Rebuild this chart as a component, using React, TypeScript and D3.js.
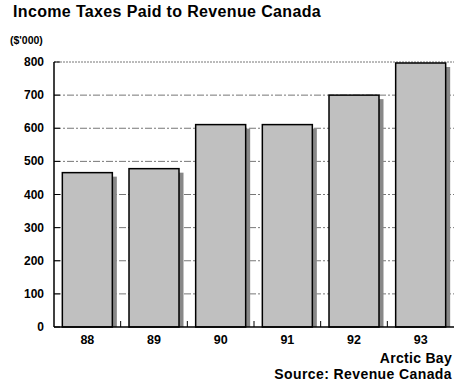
import React from "react";
import * as d3 from "d3";

const categories = ["88", "89", "90", "91", "92", "93"];
const values = [466, 478, 611, 611, 700, 797];
const yTicks = [0, 100, 200, 300, 400, 500, 600, 700, 800];

export default function App() {
  const W = 455, H = 387;
  const left = 54, right = 454, top = 62, bottom = 327;
  const x = d3.scaleBand().domain(categories).range([left, right]).paddingInner(0.25).paddingOuter(0.125);
  const slot = d3.scaleBand().domain(categories).range([left, right]);
  const y = d3.scaleLinear().domain([0, 800]).range([bottom, top]);
  const font = "'Liberation Sans', Arial, sans-serif";
  return (
    <svg width={W} height={H} style={{ position: "absolute", left: 0, top: 0, background: "#fff" }} fontFamily={font}>
      <text x={13} y={17} fontSize={16} fontWeight="bold" letterSpacing={0.35}>Income Taxes Paid to Revenue Canada</text>
      <text x={10} y={44} fontSize={10.5} fontWeight="bold">($'000)</text>
      {yTicks.slice(1).map((t) => (
        <line key={"g" + t} x1={left} x2={right} y1={y(t)} y2={y(t)} stroke="#777" strokeWidth={1}
          strokeDasharray={t === 800 ? "2,1" : "7,2,2,2"} />
      ))}
      {yTicks.map((t) => (
        <g key={"t" + t}>
          <line x1={left} x2={left + 6} y1={y(t)} y2={y(t)} stroke="#000" strokeWidth={1} />
          <text x={44} y={y(t) + 4} fontSize={12} fontWeight="bold" textAnchor="end">{t}</text>
        </g>
      ))}
      {categories.map((c, i) => {
        const bx = x(c)!, bw = x.bandwidth();
        return (
          <g key={c}>
            <rect x={bx + bw} y={y(values[i]) + 4} width={4.5} height={bottom - y(values[i]) - 4} fill="#888" />
            <rect x={bx} y={y(values[i])} width={bw} height={bottom - y(values[i])} fill="#c0c0c0" stroke="#000" strokeWidth={1.5} />
            <text x={bx + bw / 2} y={344} fontSize={12.5} fontWeight="bold" textAnchor="middle">{c}</text>
          </g>
        );
      })}
      {categories.slice(1).map((c) => (
        <line key={"s" + c} x1={slot(c)!} x2={slot(c)!} y1={bottom} y2={bottom - 6} stroke="#000" strokeWidth={1} />
      ))}
      <line x1={left} x2={left} y1={top} y2={bottom} stroke="#000" strokeWidth={1.5} />
      <line x1={left} x2={right} y1={bottom} y2={bottom} stroke="#000" strokeWidth={1.5} />
      <text x={452} y={363} fontSize={14} fontWeight="bold" textAnchor="end" letterSpacing={0.3}>Arctic Bay</text>
      <text x={452} y={379} fontSize={14} fontWeight="bold" textAnchor="end" letterSpacing={0.4}>Source: Revenue Canada</text>
    </svg>
  );
}
